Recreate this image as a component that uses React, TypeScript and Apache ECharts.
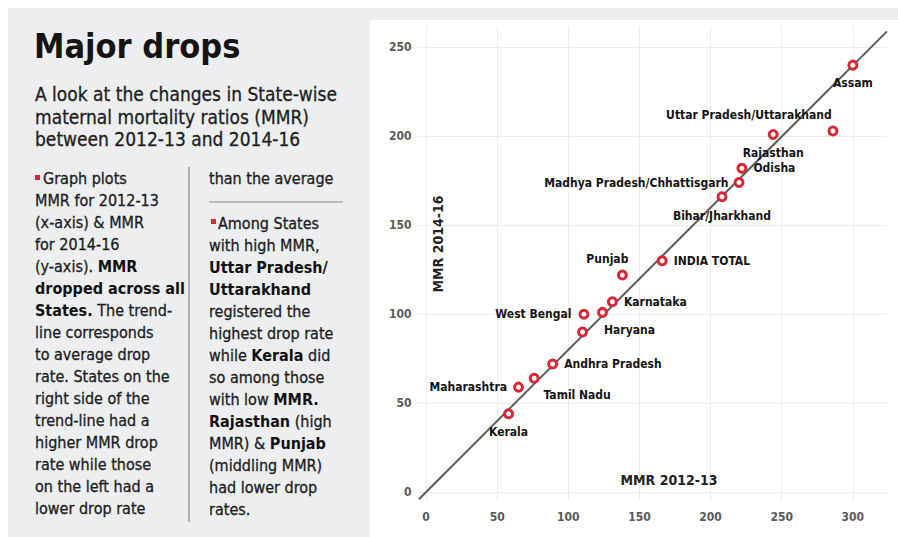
import React, { useEffect, useRef } from "react";
import * as echarts from "echarts";

// ---------- data ----------
const states = [
  "Assam",
  "Uttar Pradesh/Uttarakhand",
  "Rajasthan",
  "Odisha",
  "Madhya Pradesh/Chhattisgarh",
  "Bihar/Jharkhand",
  "INDIA TOTAL",
  "Punjab",
  "Karnataka",
  "Haryana",
  "West Bengal",
  "Gujarat",
  "Andhra Pradesh",
  "Tamil Nadu",
  "Maharashtra",
  "Kerala",
];
const mmr2012_13 = [300, 286, 244, 222, 220, 208, 166, 138, 131, 124, 111, 110, 89, 76, 65, 58];
const mmr2014_16 = [240, 203, 201, 182, 174, 166, 130, 122, 107, 101, 100, 90, 72, 64, 59, 44];
const trendX = [-5, 324];
const trendY = [-4, 259];
const xTicks = [0, 50, 100, 150, 200, 250, 300];
const yTicks = [0, 50, 100, 150, 200, 250];
const xName = "MMR 2012-13";
const yName = "MMR 2014-16";

const title = "Major drops";
const subtitle = [
  "A look at the changes in State-wise",
  "maternal mortality ratios (MMR)",
  "between 2012-13 and 2014-16",
];
type Seg = [string, boolean];
const col1: Seg[][] = [
  [["Graph plots", false]],
  [["MMR for 2012-13", false]],
  [["(x-axis) & MMR", false]],
  [["for 2014-16", false]],
  [["(y-axis). ", false], ["MMR", true]],
  [["dropped across all", true]],
  [["States.", true], [" The trend-", false]],
  [["line corresponds", false]],
  [["to average drop", false]],
  [["rate. States on the", false]],
  [["right side of the", false]],
  [["trend-line had a", false]],
  [["higher MMR drop", false]],
  [["rate while those", false]],
  [["on the left had a", false]],
  [["lower drop rate", false]],
];
const col2Top: Seg[][] = [[["than the average", false]]];
const col2: Seg[][] = [
  [["Among States", false]],
  [["with high MMR,", false]],
  [["Uttar Pradesh/", true]],
  [["Uttarakhand", true]],
  [["registered the", false]],
  [["highest drop rate", false]],
  [["while ", false], ["Kerala", true], [" did", false]],
  [["so among those", false]],
  [["with low ", false], ["MMR.", true]],
  [["Rajasthan", true], [" (high", false]],
  [["MMR) & ", false], ["Punjab", true]],
  [["(middling MMR)", false]],
  [["had lower drop", false]],
  [["rates.", false]],
];

// ---------- styles ----------
const FONT = "'DejaVu Sans Condensed', 'DejaVu Sans', sans-serif";
const RED = "#d42a38";
const INK = "#1c1c1c";

const labelPlacement: Record<string, any> = {
  Assam: { position: "bottom", distance: 6 },
  "Uttar Pradesh/Uttarakhand": { position: "top", distance: 4, offset: [-84, 0] },
  Rajasthan: { position: "bottom", distance: 7 },
  Odisha: { position: "right", distance: 6 },
  "Madhya Pradesh/Chhattisgarh": { position: "left", distance: 5 },
  "Bihar/Jharkhand": { position: "bottom", distance: 8 },
  "INDIA TOTAL": { position: "right", distance: 6 },
  Punjab: { position: "top", distance: 5, offset: [-15, 0] },
  Karnataka: { position: "right", distance: 6 },
  Haryana: { position: "bottom", distance: 6, offset: [27, 0] },
  "West Bengal": { position: "left", distance: 7 },
  Gujarat: { show: false },
  "Andhra Pradesh": { position: "right", distance: 6 },
  "Tamil Nadu": { position: "bottom", distance: 5, offset: [43, 0] },
  Maharashtra: { position: "left", distance: 6 },
  Kerala: { position: "bottom", distance: 7 },
};

function richLine(segs: Seg[], size: number) {
  return {
    text: segs
      .map(([t, b]) => `{${b ? "b" : "n"}|${t}}`)
      .join(""),
    rich: {
      n: {
        fontFamily: FONT, fontSize: size, fontWeight: "normal", fill: INK,
        stroke: INK, lineWidth: 0.3,
      },
      b: { fontFamily: FONT, fontSize: size, fontWeight: "bold", fill: "#111" },
    },
  };
}

function buildGraphics() {
  const g: any[] = [];
  // backgrounds
  g.push({ type: "rect", z: -10, shape: { x: 8, y: 8, width: 890, height: 529 }, style: { fill: "#eceef0" }, silent: true });
  g.push({ type: "rect", z: -9, shape: { x: 370, y: 20, width: 528, height: 517 }, style: { fill: "#ffffff" }, silent: true });
  // title
  g.push({
    type: "text", z: 10, x: 34, y: 46,
    style: { text: title, fontFamily: FONT, fontSize: 34, fontWeight: "bold", fill: "#141414", verticalAlign: "middle" },
  });
  subtitle.forEach((s, i) => {
    g.push({
      type: "text", z: 10, x: 35, y: 94 + i * 22.5,
      style: {
        text: s, fontFamily: FONT, fontSize: 19, fill: "#1e1e1e", verticalAlign: "middle",
        stroke: "#1e1e1e", lineWidth: 0.3,
      },
    });
  });
  // column 1
  col1.forEach((segs, i) => {
    g.push({
      type: "text", z: 10, x: i === 0 ? 43 : 35, y: 178 + i * 22,
      style: { ...richLine(segs, 16), verticalAlign: "middle" },
    });
  });
  g.push({ type: "rect", z: 10, shape: { x: 35, y: 175, width: 5, height: 5 }, style: { fill: RED } });
  // divider
  g.push({ type: "line", z: 10, shape: { x1: 189, y1: 167, x2: 189, y2: 522 }, style: { stroke: "#9a9a9a", lineWidth: 1.5 } });
  // column 2
  col2Top.forEach((segs, i) => {
    g.push({
      type: "text", z: 10, x: 209, y: 178 + i * 22,
      style: { ...richLine(segs, 16), verticalAlign: "middle" },
    });
  });
  g.push({ type: "line", z: 10, shape: { x1: 209, y1: 202, x2: 343, y2: 202 }, style: { stroke: "#8a8a8a", lineWidth: 1 } });
  col2.forEach((segs, i) => {
    g.push({
      type: "text", z: 10, x: i === 0 ? 218 : 209, y: 223 + i * 22,
      style: { ...richLine(segs, 16), verticalAlign: "middle" },
    });
  });
  g.push({ type: "rect", z: 10, shape: { x: 211, y: 219, width: 5, height: 5 }, style: { fill: RED } });
  // axis names inside plot
  g.push({
    type: "text", z: 10, x: 438, y: 244, rotation: Math.PI / 2,
    style: { text: yName, fontFamily: FONT, fontSize: 14, fontWeight: "bold", fill: "#222", align: "center", verticalAlign: "middle" },
  });
  g.push({
    type: "text", z: 10, x: 669, y: 480,
    style: { text: xName, fontFamily: FONT, fontSize: 14, fontWeight: "bold", fill: "#222", align: "center", verticalAlign: "middle" },
  });
  return g;
}

export default function App() {
  const ref = useRef<HTMLDivElement>(null);
  useEffect(() => {
    if (!ref.current) return;
    const chart = echarts.init(ref.current, null, { renderer: "svg" });
    const scatterData = states.map((name, i) => {
      const p = labelPlacement[name] || {};
      return {
        name,
        value: [mmr2012_13[i], mmr2014_16[i]],
        label: {
          show: p.show !== false,
          position: p.position || "right",
          distance: p.distance ?? 5,
          offset: p.offset || [0, 0],
        },
      };
    });
    const option: any = {
      animation: false,
      backgroundColor: "#ffffff",
      grid: { left: 417.5, right: 11, top: 26, bottom: 36, containLabel: false },
      xAxis: {
        type: "value",
        min: -6,
        max: 324,
        axisLine: { show: false },
        axisTick: { show: false, customValues: xTicks },
        axisLabel: {
          customValues: xTicks,
          margin: 10,
          color: "#5a5a5a",
          fontFamily: FONT,
          fontSize: 12,
          fontWeight: "bold",
        },
        splitLine: { show: true, lineStyle: { color: "#ececec", width: 1 } },
      },
      yAxis: {
        type: "value",
        min: -5,
        max: 262,
        axisLine: { show: false },
        axisTick: { show: false, customValues: yTicks },
        axisLabel: {
          customValues: yTicks,
          margin: 6,
          color: "#5a5a5a",
          fontFamily: FONT,
          fontSize: 12,
          fontWeight: "bold",
        },
        splitLine: { show: true, lineStyle: { color: "#ececec", width: 1 } },
      },
      graphic: buildGraphics(),
      series: [
        {
          type: "line",
          data: trendX.map((x, i) => [x, trendY[i]]),
          symbol: "none",
          silent: true,
          z: 2,
          lineStyle: { color: "#5c5c5c", width: 2 },
        },
        {
          type: "scatter",
          data: scatterData,
          symbol: "circle",
          symbolSize: 8,
          z: 3,
          itemStyle: { color: "#ffffff", borderColor: RED, borderWidth: 3, opacity: 1 },
          label: {
            show: true,
            formatter: "{b}",
            color: "#141414",
            fontFamily: FONT,
            fontSize: 12,
            fontWeight: "bold",
          },
        },
      ],
    };
    chart.setOption(option);
    return () => chart.dispose();
  }, []);
  return (
    <div
      ref={ref}
      style={{ position: "absolute", left: 0, top: 0, width: 898, height: 537 }}
    />
  );
}
